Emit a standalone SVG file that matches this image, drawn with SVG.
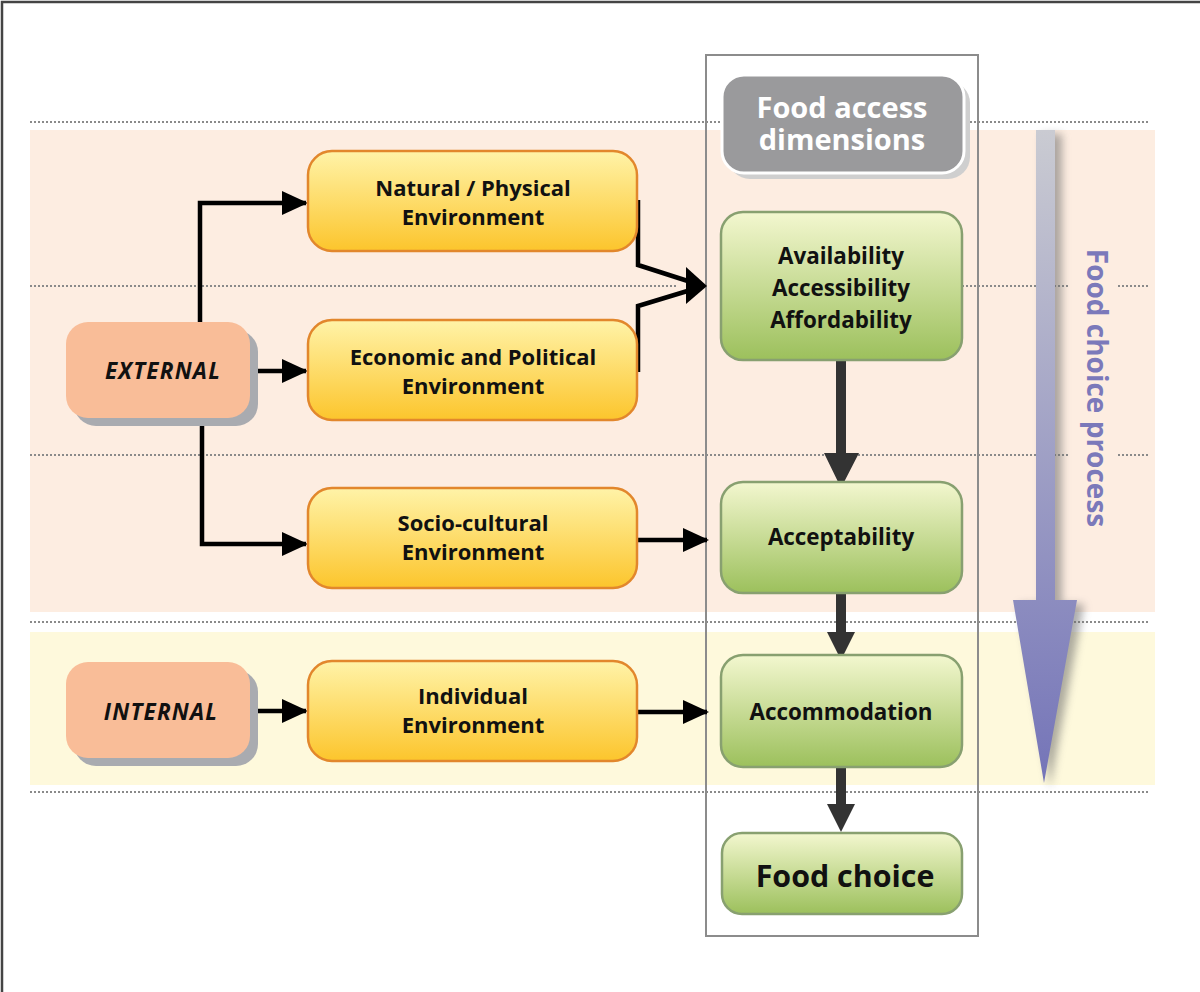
<svg xmlns="http://www.w3.org/2000/svg" width="1200" height="992" viewBox="0 0 1200 992">
  <defs>
    <linearGradient id="gYellow" x1="0" y1="0" x2="0" y2="1">
      <stop offset="0" stop-color="#fff3a8"/>
      <stop offset="1" stop-color="#fcc52c"/>
    </linearGradient>
    <linearGradient id="gGreen" x1="0" y1="0" x2="0" y2="1">
      <stop offset="0" stop-color="#f3f7cf"/>
      <stop offset="1" stop-color="#9cc05c"/>
    </linearGradient>
    <linearGradient id="gProcess" x1="0" y1="0" x2="0" y2="1">
      <stop offset="0" stop-color="#cacbd2"/>
      <stop offset="1" stop-color="#7474b8"/>
    </linearGradient>
    <filter id="soft" x="-50%" y="-10%" width="200%" height="120%">
      <feGaussianBlur stdDeviation="4"/>
    </filter>
    <marker id="ah" viewBox="0 0 26 26" refX="24" refY="13" markerWidth="26" markerHeight="26" orient="auto" markerUnits="userSpaceOnUse">
      <path d="M0,1 L26,13 L0,25 Z" fill="#000"/>
    </marker>
  </defs>
  <style>
    .dot { stroke: #8a8a8a; stroke-width: 2; stroke-dasharray: 2 2; fill: none; }
    .yel { fill: url(#gYellow); stroke: #e2872c; stroke-width: 2.5; }
    .grn { fill: url(#gGreen); stroke: #88a070; stroke-width: 2.5; }
    .pink { fill: #f9bd98; }
    .pshadow { fill: #a9abb0; }
    .t { font-family: "Open Sans", "Liberation Sans", sans-serif; font-weight: bold; fill: #111; text-anchor: middle; }
    .ti { font-style: italic; }
    .link { stroke: #000; stroke-width: 4.5; fill: none; }
    .dk { fill: #333; }
  </style>

  <!-- page frame -->
  <rect width="1200" height="992" fill="#fff"/>
  <path d="M2,992 V2 H1200" stroke="#444" stroke-width="2.5" fill="none"/>

  <!-- bands -->
  <rect x="30" y="130" width="1125" height="482" fill="#fdede1"/>
  <rect x="30" y="632" width="1125" height="153" fill="#fef9dc"/>
  <g id="guides">
    <line class="dot" x1="30" y1="122" x2="720" y2="122"/>
    <line class="dot" x1="970" y1="122" x2="1150" y2="122"/>
    <line class="dot" x1="30" y1="286" x2="678" y2="286"/>
    <line class="dot" x1="962" y1="286" x2="1068" y2="286"/>
    <line class="dot" x1="1118" y1="286" x2="1150" y2="286"/>
    <line class="dot" x1="30" y1="455" x2="1068" y2="455"/>
    <line class="dot" x1="1118" y1="455" x2="1150" y2="455"/>
    <line class="dot" x1="30" y1="622" x2="1150" y2="622"/>
    <line class="dot" x1="30" y1="792" x2="1150" y2="792"/>
  </g>

  <!-- column of food access dimensions -->
  <rect x="706" y="55" width="272" height="881" fill="none" stroke="#8c8c8c" stroke-width="2"/>

  <!-- process arrow -->
  <g id="process">
    <path d="M1042,134 H1062 V604 H1084 L1050,788 L1019,604 H1042 Z" fill="#6b6b6b" opacity="0.55" filter="url(#soft)"/>
    <path d="M1036,130 H1055 V600 H1077 L1044,783 L1013,600 H1036 Z" fill="url(#gProcess)"/>
    <text class="t" x="0" y="0" transform="translate(1087,388) rotate(90)" style="fill:#7b79ba;font-size:28px">Food choice process</text>
  </g>

  <!-- connectors -->
  <g id="connectors">
    <polyline class="link" points="200,322 200,203 306,203" marker-end="url(#ah)"/>
    <line class="link" x1="258" y1="371" x2="306" y2="371" marker-end="url(#ah)"/>
    <polyline class="link" points="202,426 202,544 306,544" marker-end="url(#ah)"/>
    <line class="link" x1="258" y1="711" x2="306" y2="711" marker-end="url(#ah)"/>
    <line class="link" x1="637" y1="540" x2="707" y2="540" marker-end="url(#ah)"/>
    <line class="link" x1="637" y1="712" x2="707" y2="712" marker-end="url(#ah)"/>
    <polyline class="link" points="638,200 638,265 694,283"/>
    <polyline class="link" points="638,372 638,306 694,289"/>
    <path d="M686,267 L707,286 L686,304 Z" fill="#000"/>
    <!-- dimension flow -->
    <path class="dk" d="M836,360 H846 V453 H859 L841,488 L824,453 H836 Z"/>
    <path class="dk" d="M836,593 H846 V632 H855 L841,660 L827,632 H836 Z"/>
    <path class="dk" d="M836,767 H846 V804 H855 L841,832 L827,804 H836 Z"/>
  </g>

  <!-- header -->
  <g id="header">
    <rect x="728" y="81" width="242" height="98" rx="22" fill="#cfcfcf"/>
    <rect x="722" y="75" width="242" height="98" rx="22" fill="#9a9a9c" stroke="#fff" stroke-width="3"/>
    <text class="t" style="fill:#fff;font-size:29px"><tspan x="842" y="118">Food access</tspan><tspan x="842" y="150">dimensions</tspan></text>
  </g>

  <!-- source nodes -->
  <g id="external">
    <rect class="pshadow" x="74" y="330" width="184" height="96" rx="22"/>
    <rect class="pink" x="66" y="322" width="184" height="96" rx="22"/>
    <text class="t ti" x="163" y="379" style="font-size:22.5px;letter-spacing:1.2px">EXTERNAL</text>
  </g>
  <g id="internal">
    <rect class="pshadow" x="74" y="670" width="184" height="96" rx="22"/>
    <rect class="pink" x="66" y="662" width="184" height="96" rx="22"/>
    <text class="t ti" x="161" y="720" style="font-size:22.5px;letter-spacing:1.2px">INTERNAL</text>
  </g>

  <!-- environment nodes -->
  <g id="natural">
    <rect class="yel" x="308" y="151" width="329" height="100" rx="24"/>
    <text class="t" x="473" y="196" style="font-size:22px">Natural / Physical</text>
    <text class="t" x="473" y="225" style="font-size:22px">Environment</text>
  </g>
  <g id="economic">
    <rect class="yel" x="308" y="320" width="329" height="100" rx="24"/>
    <text class="t" x="473" y="365" style="font-size:22px">Economic and Political</text>
    <text class="t" x="473" y="394" style="font-size:22px">Environment</text>
  </g>
  <g id="sociocultural">
    <rect class="yel" x="308" y="488" width="329" height="100" rx="24"/>
    <text class="t" x="473" y="531" style="font-size:22px">Socio-cultural</text>
    <text class="t" x="473" y="560" style="font-size:22px">Environment</text>
  </g>
  <g id="individual">
    <rect class="yel" x="308" y="661" width="329" height="100" rx="24"/>
    <text class="t" x="473" y="704" style="font-size:22px">Individual</text>
    <text class="t" x="473" y="733" style="font-size:22px">Environment</text>
  </g>

  <!-- food access dimension nodes -->
  <g id="availability">
    <rect class="grn" x="721" y="212" width="241" height="148" rx="22"/>
    <text class="t" x="841" y="264" style="font-size:22.4px">Availability</text>
    <text class="t" x="841" y="296" style="font-size:22.4px">Accessibility</text>
    <text class="t" x="841" y="328" style="font-size:22.4px">Affordability</text>
  </g>
  <g id="acceptability">
    <rect class="grn" x="721" y="482" width="241" height="111" rx="22"/>
    <text class="t" x="841" y="545" style="font-size:22.4px">Acceptability</text>
  </g>
  <g id="accommodation">
    <rect class="grn" x="721" y="655" width="241" height="112" rx="22"/>
    <text class="t" x="841" y="720" style="font-size:22.4px">Accommodation</text>
  </g>
  <g id="foodchoice">
    <rect class="grn" x="722" y="833" width="240" height="81" rx="20"/>
    <text class="t" x="845" y="887" style="font-size:30.4px">Food choice</text>
  </g>
</svg>
